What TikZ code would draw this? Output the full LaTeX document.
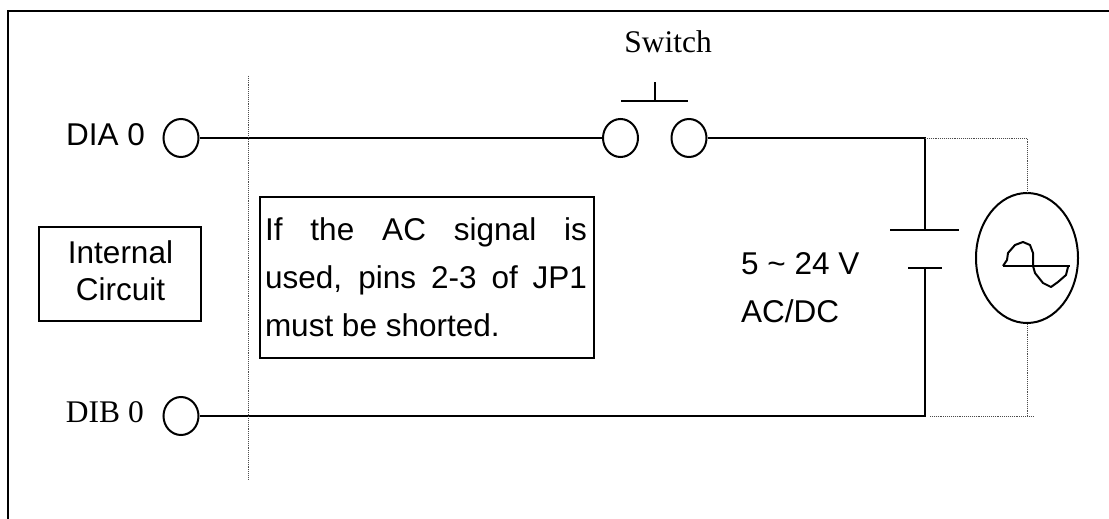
\documentclass[tikz,border=0pt]{standalone}
\usepackage{fontspec}
\setmainfont{Liberation Serif}
\setsansfont{Liberation Sans}
\usetikzlibrary{
    shapes.geometric,
    positioning
}
\tikzset{
    terminal/.style={
        ellipse,
        draw,
        line width=2pt,
        minimum width=35pt,
        minimum height=38pt,
        inner sep=0pt
    },
    label-sans/.style={
        font=\fontsize{31.5}{37}\selectfont\sffamily,
        inner sep=0pt,
        align=center
    },
    label-serif/.style={
        font=\fontsize{31.5}{37}\selectfont,
        inner sep=0pt
    },
    wire/.style={line width=2pt},
    guide/.style={line width=0.9pt, densely dotted, black!70}
}

\begin{document}
\begin{tikzpicture}[x=1pt, y=-1pt]

    \useasboundingbox (0, 0) rectangle (1109, 519);
    \draw[line width=2.6pt] (8, 519) -- (8, 11) -- (1109, 11);

    \node[terminal] at (181, 138) (dia) {};
    \node[terminal] at (181, 416) (dib) {};
    \node[terminal] at (620.5, 138) (switch-left) {};
    \node[terminal] at (689, 138) (switch-right) {};
    \node[label-sans, anchor=base east] at (145, 145) (dia-label) {DIA 0};
    \node[label-serif, anchor=base east] at (144, 422) (dib-label) {DIB 0};
    \node[label-serif] at (668, 42) (switch-label) {Switch};

    \node[draw, line width=1.3pt, minimum width=162pt, minimum height=94pt] at (120, 274) (internal) {};
    \node[label-sans] at (120.5, 270.5) (internal-text) {Internal\\Circuit};
    \node[draw, line width=1.3pt, minimum width=334pt, minimum height=161pt, inner sep=0pt] at (427, 277.5) (note) {};
    \node[label-sans, text width=322pt, align=justify, font=\fontsize{31.5}{48}\selectfont\sffamily] at (426, 277) (note-text) {If the AC signal is\linebreak used, pins 2-3 of JP1\linebreak must be shorted.};
    \node[label-sans, anchor=base west] at (741, 274) (voltage) {5 \textasciitilde{} 24 V};
    \node[label-sans, anchor=base west] at (741, 322) (acdc) {AC/DC};

    % battery and source
    \coordinate (top-plate) at (925, 230);
    \coordinate (bottom-plate) at (925, 267.5);
    \node[ellipse, draw, line width=2pt, minimum width=102pt, minimum height=130pt, inner sep=0pt] at (1027, 258) (source) {};

    \draw[wire] (dia) -- (switch-left);
    \draw[wire] (switch-right) -| (top-plate);
    \draw[wire] (dib) -| (bottom-plate);
    \draw[wire] (top-plate) ++(-35, 0) -- ++(69, 0);
    \draw[wire] (bottom-plate) ++(-17, 0) -- ++(34, 0);

    \draw[wire] (621, 101) -- (688, 101);
    \draw[wire] (655, 101) -- (655, 82);

    \draw[guide] (248, 76) -- (248, 480);
    \draw[guide] (925, 138) -| (source.north);
    \draw[guide] (930, 416) -- (1033, 416);
    \draw[guide] (source.south) -- (1027, 416);

    \draw[wire] (1003, 266) -- (1070, 266);
    \draw[wire, line join=round] (1003, 266) -- (1007, 260) -- (1008, 253) -- (1015, 245) -- (1023, 242) -- (1030, 245) -- (1033, 253) -- (1033, 266)
        -- (1035, 273) -- (1043, 283) -- (1051, 287) -- (1058, 282) -- (1066, 275) -- (1068, 267);

\end{tikzpicture}
\end{document}
